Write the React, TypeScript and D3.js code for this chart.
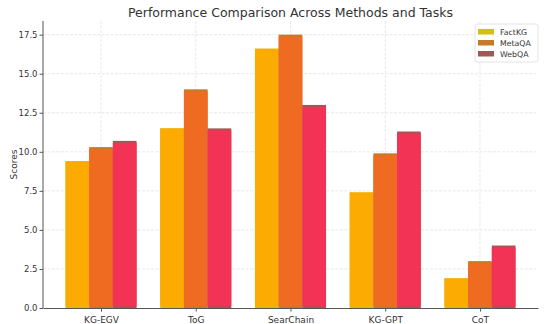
import { useEffect, useRef } from 'react';
import * as d3 from 'd3';

const methods = ['KG-EGV', 'ToG', 'SearChain', 'KG-GPT', 'CoT'];
const seriesNames = ['FactKG', 'MetaQA', 'WebQA'];
const factKG = [9.4, 11.5, 16.6, 7.4, 1.9];
const metaQA = [10.3, 14.0, 17.5, 9.9, 3.0];
const webQA = [10.7, 11.5, 13.0, 11.3, 4.0];
const yTicks = [0, 2.5, 5, 7.5, 10, 12.5, 15, 17.5];

const fills = ['#fbab02', '#f06b22', '#f23356'];
const legendFills = ['#d2bf12', '#c47a26', '#a85454'];
const capPx = [0, 2, 2];

const W = 550;
const H = 324;
const FONT = 'DejaVu Sans, sans-serif';

export default function App() {
  const svgRef = useRef<SVGSVGElement>(null);

  useEffect(() => {
    const svg = d3.select(svgRef.current);
    svg.selectAll('*').remove();

    const m = { top: 21, right: 12, bottom: 16, left: 43 };
    const iw = W - m.left - m.right;
    const ih = H - m.top - m.bottom;
    const values = [factKG, metaQA, webQA];
    const barW = 0.25;

    const x = d3.scaleLinear().domain([-0.6125, methods.length - 1 + 0.6125]).range([0, iw]);
    const y = d3.scaleLinear().domain([0, 18.375]).range([ih, 0]);

    const g = svg.append('g').attr('transform', `translate(${m.left},${m.top})`);

    // grid
    g.append('g').selectAll('line').data(yTicks.slice(1)).join('line')
      .attr('x1', 0).attr('x2', iw).attr('y1', d => y(d)).attr('y2', d => y(d))
      .attr('stroke', '#e2e2e2').attr('stroke-width', 0.8).attr('stroke-dasharray', '3,1.5');
    g.append('g').selectAll('line').data(methods).join('line')
      .attr('x1', (_, i) => x(i)).attr('x2', (_, i) => x(i)).attr('y1', 0).attr('y2', ih)
      .attr('stroke', '#e2e2e2').attr('stroke-width', 0.8).attr('stroke-dasharray', '3,1.5');

    // bars: muted base with the bright fill laid over it
    values.forEach((vals, s) => {
      const off = (s - 1) * barW - barW / 2;
      const sg = g.append('g');
      sg.selectAll('rect.base').data(vals).join('rect').attr('class', 'base')
        .attr('x', (_, i) => x(i + off)).attr('width', x(barW) - x(0))
        .attr('y', d => y(d)).attr('height', d => ih - y(d))
        .attr('fill', legendFills[s]);
      sg.selectAll('rect.top').data(vals).join('rect').attr('class', 'top')
        .attr('x', (_, i) => x(i + off)).attr('width', x(barW) - x(0))
        .attr('y', d => y(d) + capPx[s]).attr('height', d => ih - y(d) - capPx[s] - 1.5)
        .attr('fill', fills[s]);
    });

    // axes
    const ya = g.append('g').call(d3.axisLeft(y).tickValues(yTicks).tickFormat(d3.format('.1f'))
      .tickSize(3.5).tickPadding(2).tickSizeOuter(0));
    const xa = g.append('g').attr('transform', `translate(0,${ih})`)
      .call(d3.axisBottom(x).tickValues(d3.range(methods.length)).tickFormat((_, i) => methods[i])
        .tickSize(3.5).tickSizeOuter(0));
    [ya, xa].forEach(a => {
      a.select('.domain').attr('stroke', '#555').attr('stroke-width', 1);
      a.selectAll('.tick line').attr('stroke', '#555');
      a.selectAll('text').attr('fill', '#333').attr('font-size', 8.5).attr('font-family', FONT);
    });
    ya.select('.domain').attr('d', `M0,${ih}V0`);
    xa.selectAll('text').attr('dy', '0.9em').attr('font-size', 9);

    // title and label
    svg.append('text').attr('x', m.left + iw / 2).attr('y', 17).attr('text-anchor', 'middle')
      .attr('font-family', FONT).attr('font-size', 12.5).attr('fill', '#333')
      .text('Performance Comparison Across Methods and Tasks');
    svg.append('text').attr('transform', `translate(17,${m.top + ih / 2}) rotate(-90)`)
      .attr('text-anchor', 'middle').attr('font-family', FONT).attr('font-size', 9).attr('fill', '#333')
      .text('Scores');

    // legend
    const lg = svg.append('g').attr('transform', 'translate(475,24)');
    lg.append('rect').attr('width', 63).attr('height', 38).attr('rx', 2)
      .attr('fill', '#fff').attr('fill-opacity', 0.8).attr('stroke', '#ddd').attr('stroke-width', 0.8);
    seriesNames.forEach((name, i) => {
      lg.append('rect').attr('x', 3).attr('y', 5 + i * 11).attr('width', 16).attr('height', 5.5)
        .attr('fill', legendFills[i]);
      lg.append('text').attr('x', 25).attr('y', 10.5 + i * 11)
        .attr('font-family', FONT).attr('font-size', 7.8).attr('fill', '#333').text(name);
    });
  }, []);

  return (
    <svg ref={svgRef} width={W} height={H}
      style={{ position: 'absolute', left: 0, top: 0, background: '#fff' }} />
  );
}
